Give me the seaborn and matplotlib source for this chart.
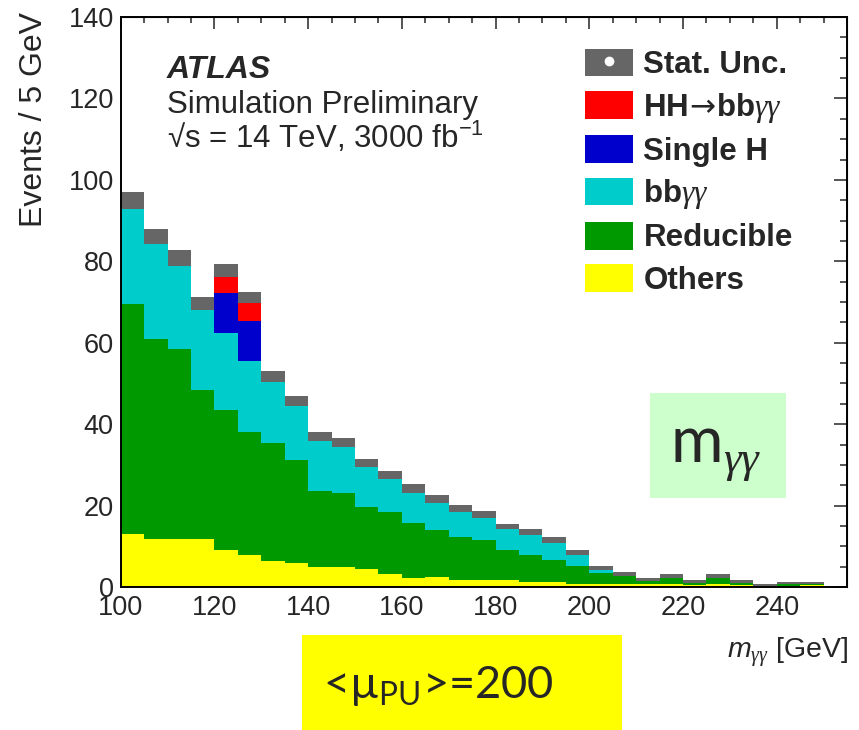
import numpy as np
import pandas as pd
import matplotlib
matplotlib.use("Agg")
import matplotlib.pyplot as plt
import seaborn as sns
from matplotlib.patches import Patch, Rectangle
from matplotlib.lines import Line2D
from matplotlib.ticker import MultipleLocator

# ---------------- data (events per 5 GeV bin, 100-250 GeV) ----------------
bin_edges = list(range(100, 255, 5))
others = [13.0, 11.7, 11.7, 11.7, 9.0, 7.8, 6.4, 5.8, 4.8, 4.8, 4.4, 3.1, 2.2, 2.5, 1.8,
          1.8, 1.8, 1.2, 1.2, 0.7, 0.7, 0.7, 0.7, 0.7, 0.5, 0.7, 0.5, 0.2, 0.3, 0.4]
reducible = [56.6, 49.3, 46.8, 36.6, 34.4, 30.3, 29.0, 25.4, 18.8, 18.4, 15.3, 15.2, 13.4, 11.5, 10.4,
             9.7, 7.2, 6.7, 5.4, 4.4, 2.7, 2.3, 0.9, 1.8, 0.5, 1.5, 0.5, 0.2, 0.4, 0.4]
bbyy = [25.4, 25.2, 22.3, 21.3, 19.0, 17.3, 16.4, 14.5, 13.4, 12.4, 10.8, 9.1, 8.6, 7.6, 7.1,
        6.3, 5.9, 5.6, 4.9, 3.3, 1.2, 0.2, 0.2, 0.3, 0.3, 0.4, 0.4, 0.1, 0.2, 0.2]
single_h = [0, 0, 0, 0, 9.7, 9.9, 0, 0, 0, 0, 0, 0, 0, 0, 0,
            0, 0, 0, 0, 0, 0, 0, 0, 0, 0, 0, 0, 0, 0, 0]
hh = [0, 0, 0, 0, 5.7, 5.8, 0, 0, 0, 0, 0, 0, 0, 0, 0,
      0, 0, 0, 0, 0, 0, 0, 0, 0, 0, 0, 0, 0, 0, 0]
stat_unc = [2.05, 1.85, 1.85, 1.56, 1.56, 1.44, 1.35, 1.31, 1.15, 1.11, 0.94, 0.98, 1.03, 0.90, 0.78,
            0.82, 0.66, 0.66, 0.66, 0.57, 0.49, 0.49, 0.41, 0.49, 0.37, 0.49, 0.41, 0.25, 0.25, 0.29]

process_names = ["HH→bbγγ", "Single H", "bbγγ", "Reducible", "Others"]
process_colors = ["#ff0000", "#0000cc", "#00cccc", "#009900", "#ffff00"]
legend_labels = [r"HH$\!\mathtt{\rightarrow}\!$bb$\mathcal{\gamma\gamma}$", "Single H",
                 r"bb$\mathcal{\gamma\gamma}$", "Reducible", "Others"]
x_ticks = [100, 120, 140, 160, 180, 200, 220, 240]
y_ticks = [0, 20, 40, 60, 80, 100, 120, 140]

# ---------------- style ----------------
sns.set_style("white")
plt.rcParams["font.family"] = ["Liberation Sans", "DejaVu Sans"]
plt.rcParams["mathtext.fontset"] = "custom"
plt.rcParams["mathtext.rm"] = "Liberation Sans"
plt.rcParams["mathtext.it"] = "Liberation Sans:italic"
plt.rcParams["mathtext.bf"] = "Liberation Sans:bold"
plt.rcParams["mathtext.sf"] = "Lato"
plt.rcParams["mathtext.tt"] = "DejaVu Sans"
plt.rcParams["mathtext.cal"] = "Liberation Serif:italic"

W, H = 859, 730
fig = plt.figure(figsize=(W / 100, H / 100), dpi=100)
L, R, T, B = 120.7, 847, 17, 587
ax = fig.add_axes([L / W, 1 - B / H, (R - L) / W, (B - T) / H])

centers = [(a + b) / 2 for a, b in zip(bin_edges[:-1], bin_edges[1:])]
comp = [hh, single_h, bbyy, reducible, others]
df = pd.DataFrame({
    "mass": np.tile(centers, len(comp)),
    "events": np.concatenate([np.array(c, dtype=float) for c in comp]),
    "process": np.repeat(process_names, len(centers)),
})
sns.histplot(data=df, x="mass", weights="events", hue="process", hue_order=process_names,
             palette=process_colors, multiple="stack", bins=bin_edges, element="step",
             fill=True, alpha=1, linewidth=0, legend=False, ax=ax)

total = np.sum([np.array(c, dtype=float) for c in comp], axis=0)
unc = np.array(stat_unc)
ax.bar(centers, 2 * unc, bottom=total - unc, width=5, color="#666666", linewidth=0)

ax.set_xlim(100, 255)
ax.set_ylim(0, 140)
ax.set_xticks(x_ticks)
ax.set_yticks(y_ticks)
ax.xaxis.set_minor_locator(MultipleLocator(5))
ax.yaxis.set_minor_locator(MultipleLocator(5))
ax.tick_params(axis="both", which="both", direction="in", width=1.1, color="black")
ax.tick_params(axis="y", which="major", length=15.5, labelsize=19.5, pad=5)
ax.tick_params(axis="y", which="minor", length=7.5)
ax.tick_params(axis="x", which="major", length=11.5, labelsize=19.5, pad=6)
ax.tick_params(axis="x", which="minor", length=5.8)
for s in ax.spines.values():
    s.set_linewidth(1.4)
    s.set_color("black")

secx = ax.secondary_xaxis("top")
secx.set_xticks(x_ticks)
secx.xaxis.set_minor_locator(MultipleLocator(5))
secx.tick_params(axis="x", which="major", direction="in", length=8.6, width=1.1, labeltop=False)
secx.tick_params(axis="x", which="minor", direction="in", length=4.3, width=1.1)
secy = ax.secondary_yaxis("right")
secy.set_yticks(y_ticks)
secy.yaxis.set_minor_locator(MultipleLocator(5))
secy.tick_params(axis="y", which="major", direction="in", length=9.4, width=1.1, labelright=False)
secy.tick_params(axis="y", which="minor", direction="in", length=4.7, width=1.1)

ax.set_ylabel("Events / 5 GeV", fontsize=23, loc="top")
ax.yaxis.set_label_coords((49 - L) / (R - L), (B - 12) / (B - T))
ax.set_xlabel(r"$m_{\mathcal{\gamma\gamma}}$ [GeV]", fontsize=20.5, loc="right")
ax.xaxis.set_label_coords((848 - L) / (R - L), -(636 - B) / (B - T))

# ATLAS label
fig.text(167 / W, 1 - 78 / H, "ATLAS", fontsize=23, fontweight="bold", style="italic", va="baseline")
fig.text(167 / W, 1 - 113 / H, "Simulation Preliminary", fontsize=22.5, va="baseline")
fig.text(167 / W, 1 - 148 / H, "\u221as = 14 TeV, 3000 fb$^{-1}$", fontsize=22.5, va="baseline")

# legend
handles = [(Patch(facecolor="#666666", edgecolor="none"),
            Line2D([], [], marker="o", color="white", markersize=6, linestyle="none"))]
handles += [Patch(facecolor=c, edgecolor="none") for c in process_colors]
labels = ["Stat. Unc."] + legend_labels
leg = ax.legend(handles, labels, loc="upper left", bbox_to_anchor=(585 / W, 1 - 48.5 / H),
                bbox_transform=fig.transFigure, frameon=False, borderpad=0, borderaxespad=0,
                handlelength=1.54, handleheight=0.98, handletextpad=0.33, labelspacing=0.34,
                prop={"weight": "bold", "size": 22.5})

# annotation boxes
fig.patches.append(Rectangle((650 / W, 1 - 498 / H), 136 / W, 105 / H, transform=fig.transFigure,
                             facecolor="#ccffcc", edgecolor="none", zorder=5))
fig.text(670 / W, 1 - 462 / H, r"m$_{\mathcal{\gamma\gamma}}$", fontsize=46, family=["Lato", "DejaVu Sans"],
         va="baseline", zorder=6)
fig.patches.append(Rectangle((302 / W, 0), 320 / W, 95 / H, transform=fig.transFigure,
                             facecolor="#ffff00", edgecolor="none", zorder=5))
fig.text(323 / W, 1 - 698 / H, "<\u00b5$_{\\mathsf{PU}}$>=200", fontsize=32.5,
         family=["Lato", "DejaVu Sans"], va="baseline", zorder=6)

fig.savefig("out.png", dpi=100)
